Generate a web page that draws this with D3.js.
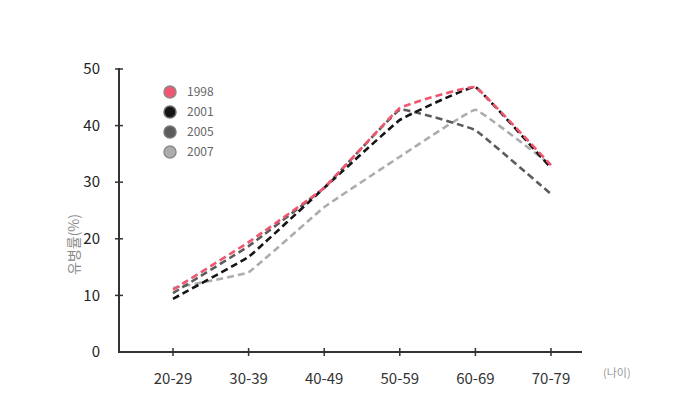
<!DOCTYPE html>
<html>
<head>
<meta charset="utf-8">
<script src="https://cdn.jsdelivr.net/npm/d3@7"></script>
<style>
  body { margin: 0; background: #fff; }
  svg { font-family: "Noto Sans CJK KR", "Noto Sans", sans-serif; }
</style>
</head>
<body>
<div id="chart"></div>
<script>
// data
const ageGroups = ["20-29", "30-39", "40-49", "50-59", "60-69", "70-79"];
const years = ["1998", "2001", "2005", "2007"];
const rate1998 = [11.0, 19.4, 29.0, 43.1, 46.8, 33.0];
const rate2001 = [9.4, 16.8, 29.0, 41.0, 46.8, 32.5];
const rate2005 = [10.4, 18.7, 29.0, 42.8, 39.2, 27.9];
const rate2007 = [11.3, 14.1, 25.6, 34.5, 42.8, 33.0];
const yTicks = [0, 10, 20, 30, 40, 50];

const width = 686, height = 420;
const margin = { top: 69, right: 104, bottom: 68, left: 119 };

const series = [
  { year: years[0], values: rate1998, color: "#f0566f", ring: "#8a8a8a" },
  { year: years[1], values: rate2001, color: "#151515", ring: "#6a6a6a" },
  { year: years[2], values: rate2005, color: "#5c5c5c", ring: "#777" },
  { year: years[3], values: rate2007, color: "#acacac", ring: "#8c8c8c" },
];

const svg = d3.select("#chart").append("svg")
  .attr("width", width).attr("height", height);

const x = d3.scalePoint()
  .domain(ageGroups)
  .range([margin.left + 54, width - margin.right - 31]);

const y = d3.scaleLinear()
  .domain([0, 50])
  .range([height - margin.bottom, margin.top]);

const axisColor = "#333";

// y axis line + cross ticks
svg.append("line")
  .attr("x1", margin.left).attr("x2", margin.left)
  .attr("y1", y(50) - 1).attr("y2", y(0))
  .attr("stroke", axisColor).attr("stroke-width", 2);

svg.selectAll(".ytick").data(yTicks.filter(d => d > 0)).enter()
  .append("line")
  .attr("class", "ytick")
  .attr("x1", margin.left - 4).attr("x2", margin.left + 4)
  .attr("y1", d => y(d)).attr("y2", d => y(d))
  .attr("stroke", axisColor).attr("stroke-width", 1.5);

svg.selectAll(".ylabel").data(yTicks).enter()
  .append("text")
  .attr("class", "ylabel")
  .attr("x", margin.left - 19)
  .attr("y", d => y(d))
  .attr("dy", "0.35em")
  .attr("text-anchor", "end")
  .attr("font-size", 15)
  .attr("fill", "#222")
  .text(d => d);

// x axis line + cross ticks
svg.append("line")
  .attr("x1", margin.left - 1).attr("x2", width - margin.right)
  .attr("y1", y(0)).attr("y2", y(0))
  .attr("stroke", axisColor).attr("stroke-width", 2);

svg.selectAll(".xtick").data(ageGroups).enter()
  .append("line")
  .attr("class", "xtick")
  .attr("x1", d => x(d)).attr("x2", d => x(d))
  .attr("y1", y(0) - 4).attr("y2", y(0) + 4)
  .attr("stroke", axisColor).attr("stroke-width", 1.5);

svg.selectAll(".xlabel").data(ageGroups).enter()
  .append("text")
  .attr("class", "xlabel")
  .attr("x", d => x(d))
  .attr("y", y(0) + 27)
  .attr("dy", "0.35em")
  .attr("text-anchor", "middle")
  .attr("font-size", 15)
  .attr("fill", "#333")
  .text(d => d);

// axis titles
svg.append("text")
  .attr("transform", `translate(74,${(y(0) + y(50)) / 2 + 34}) rotate(-90)`)
  .attr("text-anchor", "middle")
  .attr("dy", "0.35em")
  .attr("font-size", 14)
  .attr("fill", "#888")
  .text("유병률(%)");

svg.append("text")
  .attr("x", width - margin.right + 21)
  .attr("y", y(0) + 21)
  .attr("dy", "0.35em")
  .attr("font-size", 11)
  .attr("fill", "#999")
  .text("(나이)");

// lines, only lightly smoothed
const line = d3.line()
  .x((d, i) => x(ageGroups[i]))
  .y(d => y(d))
  .curve(d3.curveCardinal.tension(0.8));

// draw back to front so 1998 sits on top
series.slice().reverse().forEach(s => {
  svg.append("path")
    .datum(s.values)
    .attr("fill", "none")
    .attr("stroke", s.color)
    .attr("stroke-width", 2.6)
    .attr("stroke-dasharray", "7,4")
    .attr("d", line);
});

// legend
const legend = svg.append("g")
  .attr("transform", "translate(170,92)");

const items = legend.selectAll("g").data(series).enter()
  .append("g")
  .attr("transform", (d, i) => `translate(0,${i * 20})`);

items.append("circle")
  .attr("r", 6)
  .attr("fill", d => d.color)
  .attr("stroke", d => d.ring)
  .attr("stroke-width", 1.5);

items.append("text")
  .attr("x", 17)
  .attr("dy", "0.35em")
  .attr("font-size", 12)
  .attr("fill", "#666")
  .text(d => d.year);
</script>
</body>
</html>
